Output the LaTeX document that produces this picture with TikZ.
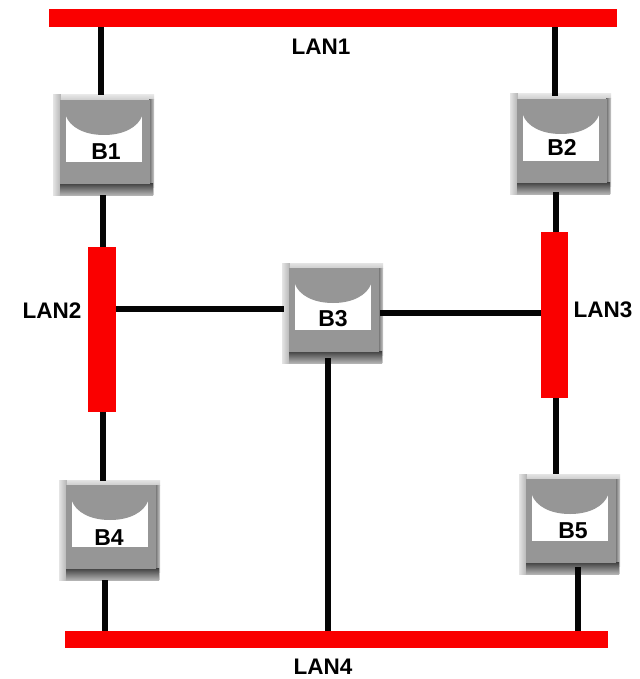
\documentclass[tikz,border=0pt]{standalone}
\usepackage{fontspec}
\setmainfont{Liberation Sans}
\definecolor{lanred}{RGB}{250,0,0}
\definecolor{faceg}{RGB}{150,150,150}
\definecolor{rimg}{RGB}{205,205,205}
\definecolor{rimlight}{RGB}{228,228,228}
\definecolor{rimmid}{RGB}{178,178,178}
\definecolor{shadowg}{RGB}{62,62,62}
\definecolor{wire}{RGB}{5,5,5}
\tikzset{
  lan/.style={fill=lanred,draw=none,inner sep=0pt,outer sep=0pt},
  wireline/.style={draw=wire,line width=5.5pt},
  rimbox/.style={fill=rimg,draw=none,minimum width=101pt,minimum height=100pt,inner sep=0pt,outer sep=0pt},
  lanlabel/.style={font=\fontsize{22.5}{23}\selectfont\bfseries,text=black,inner sep=0pt},
  brlabel/.style={font=\fontsize{23}{23}\selectfont\bfseries,text=black,inner sep=0pt}
}
% name, centre x, centre y, label, label x, label y
\newcommand{\bridge}[6]{%
  \node[rimbox] (#1) at (#2,#3) {};
  \shade[left color=rimlight,right color=rimmid] (#1.north west) rectangle ([shift={(8,0)}]#1.south west);
  \shade[top color=rimlight,bottom color=rimg] ([shift={(8,0)}]#1.north west) rectangle ([shift={(0,5)}]#1.north east);
  \shade[left color=black!60,right color=rimg] ([shift={(-5,5)}]#1.north east) rectangle ([shift={(0,-8)}]#1.south east);
  \shade[top color=shadowg,bottom color=rimmid] ([shift={(7,-12)}]#1.south west) rectangle ([shift={(-1,0)}]#1.south east);
  \fill[faceg] ([shift={(7,5)}]#1.north west) -- ([shift={(-4,5)}]#1.north east) -- ([shift={(-4,-11)}]#1.south east) -- ([shift={(7,-11)}]#1.south west) -- cycle;
  \fill[white] ([shift={(13,21)}]#1.north west) rectangle ([shift={(89,67)}]#1.north west);
  \fill[faceg] ([shift={(12,20)}]#1.north west) -- ([shift={(13,21)}]#1.north west) .. controls +(4,11) and +(-20,0) .. ([shift={(51,40)}]#1.north west) .. controls +(20,0) and +(-4,11) .. ([shift={(89,21)}]#1.north west) -- ([shift={(90,20)}]#1.north west) -- cycle;
  \node[brlabel] (#1label) at (#5,#6) {#4};
}
\begin{document}
\begin{tikzpicture}[x=1pt,y=-1pt]
\useasboundingbox (0,0) rectangle (639,679);
\fill[white] (0,0) rectangle (639,679);
% LANs
\node[lan,minimum width=568pt,minimum height=18pt] (lan1) at (333,18) {};
\node[lan,minimum width=28pt,minimum height=165pt] (lan2) at (102,329.5) {};
\node[lan,minimum width=27pt,minimum height=166pt] (lan3) at (554.5,315) {};
\node[lan,minimum width=543pt,minimum height=17pt] (lan4) at (336.5,639.5) {};
% Bridges
\bridge{b1}{103.5}{145}{B1}{106}{151.5}
\bridge{b2}{560.5}{144}{B2}{562}{147.5}
\bridge{b3}{332.5}{313}{B3}{333}{319}
\bridge{b4}{109.5}{530}{B4}{109}{537.5}
\bridge{b5}{569.5}{524}{B5}{573}{530.5}
% Wire end points on the bridge outlines
\coordinate (w1) at (101,95);
\coordinate (w1b) at (103,195);
\coordinate (w2) at (555,96);
\coordinate (w2b) at (556,192);
\coordinate (w3l) at (284,309);
\coordinate (w3r) at (380,313);
\coordinate (w3b) at (328,358);
\coordinate (w4t) at (103,481);
\coordinate (w4b) at (105,580);
\coordinate (w5t) at (556,474);
\coordinate (w5b) at (578,567);
\draw[wireline] (w1 |- lan1.south) -- (w1);
\draw[wireline] (w1b) -- (w1b |- lan2.north);
\draw[wireline] (w2 |- lan1.south) -- (w2);
\draw[wireline] (w2b) -- (w2b |- lan3.north);
\draw[wireline] (w3l -| lan2.east) -- (w3l);
\draw[wireline] (w3r) -- (w3r -| lan3.west);
\draw[wireline] (w3b) -- (w3b |- lan4.north);
\draw[wireline] (w4t |- lan2.south) -- (w4t);
\draw[wireline] (w4b) -- (w4b |- lan4.north);
\draw[wireline] (w5t |- lan3.south) -- (w5t);
\draw[wireline] (w5b) -- (w5b |- lan4.north);
% Labels
\node[lanlabel] (t1) at (321,47) {LAN1};
\node[lanlabel] (t2) at (52,310.5) {LAN2};
\node[lanlabel] (t3) at (603,310) {LAN3};
\node[lanlabel] (t4) at (323,667) {LAN4};
\end{tikzpicture}
\end{document}
